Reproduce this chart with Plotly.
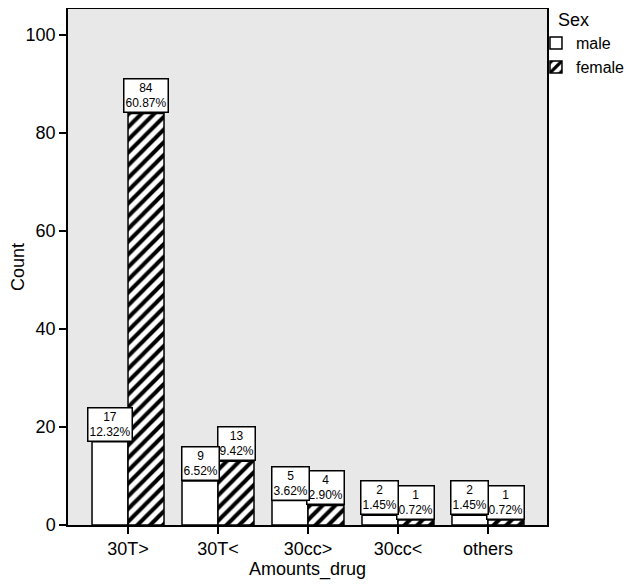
import plotly.graph_objects as go

categories = ["30T>", "30T<", "30cc>", "30cc<", "others"]
male_counts = [17, 9, 5, 2, 2]
female_counts = [84, 13, 4, 1, 1]
male_pct = ["12.32%", "6.52%", "3.62%", "1.45%", "1.45%"]
female_pct = ["60.87%", "9.42%", "2.90%", "0.72%", "0.72%"]

FONT = "Liberation Sans, Arial"
xs = list(range(len(categories)))

fig = go.Figure()
fig.add_trace(go.Bar(
    x=xs, y=male_counts, name="male",
    marker=dict(color="white", line=dict(color="black", width=1.5)),
))
fig.add_trace(go.Bar(
    x=xs, y=female_counts, name="female",
    marker=dict(color="white", line=dict(color="black", width=1.5),
                pattern=dict(shape="/", fgcolor="black", bgcolor="white",
                             size=9, solidity=0.45, fillmode="replace")),
))

off = 0.2
anns = []
for i in xs:
    anns.append(dict(x=i + off, y=female_counts[i], xref="x", yref="y",
                     text=f"{female_counts[i]}<br>{female_pct[i]}",
                     showarrow=False, yanchor="bottom", xanchor="center",
                     bgcolor="white", bordercolor="black", borderwidth=1.5,
                     borderpad=1, font=dict(family=FONT, size=12, color="black")))
for i in xs:
    anns.append(dict(x=i - off, y=male_counts[i], xref="x", yref="y",
                     text=f"{male_counts[i]}<br>{male_pct[i]}",
                     showarrow=False, yanchor="bottom", xanchor="center",
                     bgcolor="white", bordercolor="black", borderwidth=1.5,
                     borderpad=1, font=dict(family=FONT, size=12, color="black")))

fig.update_layout(
    width=629, height=576,
    margin=dict(l=60, r=90, t=1, b=59, autoexpand=False),
    paper_bgcolor="white", plot_bgcolor="#e8e8e8",
    barmode="group", bargap=0.2, bargroupgap=0,
    font=dict(family=FONT, size=18, color="black"),
    annotations=anns,
    legend=dict(title=dict(text="\u00a0\u00a0\u00a0\u00a0Sex", font=dict(size=18)),
                x=0.977, y=1.012, xanchor="left", yanchor="top",
                font=dict(size=16), bgcolor="rgba(0,0,0,0)",
                itemwidth=30, tracegroupgap=0),
    showlegend=True,
)
fig.update_xaxes(
    range=[-0.667, 4.656], tickvals=xs, ticktext=categories,
    ticks="outside", ticklen=7, tickwidth=1.5, tickcolor="black",
    showline=True, linecolor="black", linewidth=1.5, mirror=True,
    showgrid=False, zeroline=False, automargin=False,
    tickfont=dict(size=18),
    title=dict(text="Amounts_drug", standoff=4, font=dict(size=18)),
)
fig.update_yaxes(
    range=[0, 105.3], tickvals=[0, 20, 40, 60, 80, 100],
    ticks="outside", ticklen=7, tickwidth=1.5, tickcolor="black",
    showline=True, linecolor="black", linewidth=1.5, mirror=True,
    showgrid=False, zeroline=False, automargin=False,
    tickfont=dict(size=18),
    title=dict(text="Count", standoff=4, font=dict(size=18)),
)

fig.write_html("out.html")
